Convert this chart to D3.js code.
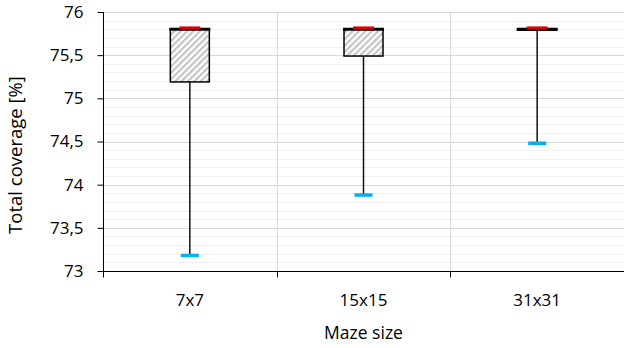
<!DOCTYPE html>
<html>
<head>
<meta charset="utf-8">
<script src="https://cdn.jsdelivr.net/npm/d3@7"></script>
<style>
body { margin: 0; background: #fff; }
text { font-family: "Open Sans", sans-serif; fill: #000; }
</style>
</head>
<body>
<script>
var sizes = ["7x7", "15x15", "31x31"];
var minVals = [73.18, 73.88, 74.48];
var q1Vals = [75.19, 75.49, 75.79];
var q3Vals = [75.8, 75.8, 75.8];
var maxVals = [75.81, 75.81, 75.81];
var yTicks = [73, 73.5, 74, 74.5, 75, 75.5, 76];

var margin = {top: 12, right: 0, bottom: 77, left: 103},
    w = 624 - margin.left - margin.right,
    h = 348 - margin.top - margin.bottom;

var data = sizes.map(function(s, i) {
	return {size: s, min: minVals[i], q1: q1Vals[i], q3: q3Vals[i], max: maxVals[i]};
});

var svg = d3.select("body")
	.append("svg")
	.attr("width", 624)
	.attr("height", 348);

/*Hatch fill*/
var pat = svg.append("defs").append("pattern")
	.attr("id", "hatch")
	.attr("patternUnits", "userSpaceOnUse")
	.attr("width", 4.5)
	.attr("height", 4.5)
	.attr("patternTransform", "rotate(45)");
pat.append("rect").attr("width", 4.5).attr("height", 4.5).attr("fill", "#fff");
pat.append("rect").attr("width", 2.2).attr("height", 4.5).attr("fill", "#c4c4c4");

var g = svg.append("g")
	.attr("transform", "translate(" + margin.left + "," + margin.top + ")");

/*Scales*/
var xScale = d3.scaleBand()
	.domain(sizes)
	.range([0, w]);
var yScale = d3.scaleLinear()
	.domain([73, 76])
	.range([h, 0]);

/*Gridlines*/
var minor = d3.range(73.1, 76.001, 0.1).filter(function(v) {
	return Math.abs(v * 2 - Math.round(v * 2)) > 0.01;
});
g.selectAll(".minor")
	.data(minor)
	.enter()
	.append("line")
	.attr("x1", 0).attr("x2", w)
	.attr("y1", function(d) { return Math.round(yScale(d)) + 0.5; })
	.attr("y2", function(d) { return Math.round(yScale(d)) + 0.5; })
	.attr("stroke", "#f0f0f0");
g.selectAll(".major")
	.data(yTicks.slice(1))
	.enter()
	.append("line")
	.attr("x1", 0).attr("x2", w)
	.attr("y1", function(d) { return Math.round(yScale(d)) + 0.5; })
	.attr("y2", function(d) { return Math.round(yScale(d)) + 0.5; })
	.attr("stroke", "#d9d9d9");
g.selectAll(".vgrid")
	.data(sizes.slice(1))
	.enter()
	.append("line")
	.attr("x1", function(d) { return Math.round(xScale(d)) + 0.5; })
	.attr("x2", function(d) { return Math.round(xScale(d)) + 0.5; })
	.attr("y1", 0).attr("y2", h)
	.attr("stroke", "#d9d9d9");

/*Boxes*/
var boxW = 39, capW = 18, redW = 21;
var cx = function(d) { return xScale(d.size) + xScale.bandwidth() / 2; };

g.selectAll(".whisker")
	.data(data)
	.enter()
	.append("line")
	.attr("x1", cx).attr("x2", cx)
	.attr("y1", function(d) { return yScale(d.q1); })
	.attr("y2", function(d) { return yScale(d.min); })
	.attr("stroke", "#111")
	.attr("stroke-width", 1.5);

g.selectAll(".box")
	.data(data)
	.enter()
	.append("rect")
	.attr("x", function(d) { return cx(d) - boxW / 2; })
	.attr("y", function(d) { return yScale(d.q3); })
	.attr("width", boxW)
	.attr("height", function(d) { return yScale(d.q1) - yScale(d.q3); })
	.attr("fill", "url(#hatch)")
	.attr("stroke", "#000")
	.attr("stroke-width", 1.5);

g.selectAll(".top")
	.data(data)
	.enter()
	.append("line")
	.attr("x1", function(d) { return cx(d) - boxW / 2 - 1; })
	.attr("x2", function(d) { return cx(d) + boxW / 2 + 1; })
	.attr("y1", function(d) { return yScale(d.q3); })
	.attr("y2", function(d) { return yScale(d.q3); })
	.attr("stroke", "#000")
	.attr("stroke-width", 3);

g.selectAll(".maxcap")
	.data(data)
	.enter()
	.append("line")
	.attr("x1", function(d) { return cx(d) - redW / 2; })
	.attr("x2", function(d) { return cx(d) + redW / 2; })
	.attr("y1", function(d) { return yScale(d.max) - 0.5; })
	.attr("y2", function(d) { return yScale(d.max) - 0.5; })
	.attr("stroke", "#e00000")
	.attr("stroke-width", 3);

g.selectAll(".mincap")
	.data(data)
	.enter()
	.append("line")
	.attr("x1", function(d) { return cx(d) - capW / 2; })
	.attr("x2", function(d) { return cx(d) + capW / 2; })
	.attr("y1", function(d) { return yScale(d.min); })
	.attr("y2", function(d) { return yScale(d.min); })
	.attr("stroke", "#00b0f0")
	.attr("stroke-width", 3.5);

/*Axes*/
var yAxis = d3.axisLeft(yScale)
	.tickValues(yTicks)
	.tickSize(6)
	.tickPadding(14)
	.tickFormat(function(d) { return String(d).replace(".", ","); });
var ya = g.append("g")
	.attr("transform", "translate(0.5,0)")
	.call(yAxis);
ya.selectAll("text").style("font-size", "17px").style("font-family", "Open Sans");
ya.select(".domain").attr("d", "M0," + h + "V0");

var xa = g.append("g")
	.attr("transform", "translate(0," + (Math.round(h) + 0.5) + ")")
	.call(d3.axisBottom(xScale).tickSize(0).tickPadding(22));
xa.selectAll("text").style("font-size", "17px").style("font-family", "Open Sans");
xa.selectAll(".boundary")
	.data([0].concat(sizes.map(function(s) { return xScale(s) + xScale.bandwidth(); })))
	.enter()
	.append("line")
	.attr("x1", function(d) { return Math.round(d) + 0.5; })
	.attr("x2", function(d) { return Math.round(d) + 0.5; })
	.attr("y1", 0).attr("y2", 6)
	.attr("stroke", "#000");
xa.select(".domain").attr("d", "M0,0H" + w);

svg.append("text")
	.attr("x", margin.left + w / 2)
	.attr("y", 339)
	.attr("text-anchor", "middle")
	.style("font-size", "17.5px")
	.text("Maze size");

svg.append("text")
	.attr("transform", "translate(22,155) rotate(-90)")
	.attr("text-anchor", "middle")
	.style("font-size", "18.5px")
	.text("Total coverage [%]");
</script>
</body>
</html>
